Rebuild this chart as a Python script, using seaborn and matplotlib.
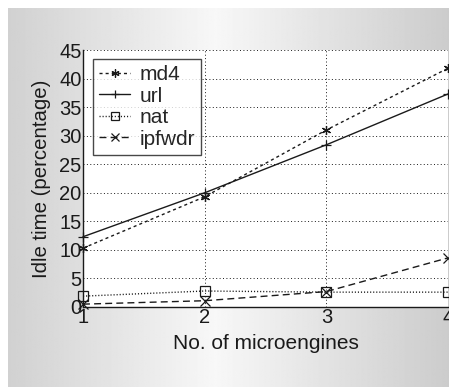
import numpy as np
import pandas as pd
import matplotlib
matplotlib.use("Agg")
import matplotlib.pyplot as plt
import seaborn as sns

# data
engines = [1, 2, 3, 4]
md4 = [10.3, 19.3, 31.0, 41.8]
url = [12.3, 20.0, 28.4, 37.3]
nat = [1.9, 2.8, 2.6, 2.6]
ipfwdr = [0.5, 1.1, 2.7, 8.6]
yticks = list(range(0, 50, 5))

sns.set_theme(style="white")
plt.rcParams["font.family"] = ["Liberation Sans", "DejaVu Sans"]

fig = plt.figure(figsize=(4.49, 3.88), dpi=100)
fig.patch.set_facecolor("white")

# grey gradient backdrop
bg = fig.add_axes([8 / 449, 1 / 388, 441 / 449, 379 / 388], zorder=-1)
xs = np.linspace(0, 1, 400)
shade = 0.97 - 0.17 * np.abs(xs - 0.47) / 0.53
bg.imshow(np.tile(shade, (10, 1)), cmap="gray", vmin=0, vmax=1,
          aspect="auto", extent=[0, 1, 0, 1])
bg.set_axis_off()

ax = fig.add_axes([83 / 449, 81 / 388, 365 / 449, 257 / 388])
ax.set_facecolor("white")

series = [
    ("md4", md4, (0, (2.2, 2.2)), (6, 2, 0), "k"),
    ("url", url, "-", "+", "k"),
    ("nat", nat, (0, (0.8, 1.4)), "s", "none"),
    ("ipfwdr", ipfwdr, (0, (5, 3)), "x", "k"),
]
for name, vals, ls, mk, fc in series:
    df = pd.DataFrame({"engines": engines, "idle": vals})
    sns.lineplot(data=df, x="engines", y="idle", ax=ax, color="k",
                 linestyle=ls, linewidth=1.0, marker=mk, markersize=6.5,
                 markerfacecolor=fc, markeredgecolor="k", markeredgewidth=0.9,
                 label=name, clip_on=False)

ax.set_xlim(1, 4)
ax.set_ylim(0, 45)
ax.set_xticks(engines)
ax.set_yticks(yticks)
ax.grid(True, color="k", linestyle=(0, (1, 2.5)), linewidth=0.7)
ax.tick_params(direction="in", length=4, width=0.8, labelsize=14.5,
               pad=1, colors="k")
for side in ["top", "right"]:
    ax.spines[side].set_visible(False)
for side in ["left", "bottom"]:
    ax.spines[side].set_color("k")
    ax.spines[side].set_linewidth(1.0)

ax.set_xlabel("No. of microengines", fontsize=15, color="k", labelpad=5)
ax.set_ylabel("Idle time (percentage)", fontsize=14.7, color="k", labelpad=6)

leg = ax.legend(loc="upper left", bbox_to_anchor=(0.027, 0.965),
                fontsize=15, frameon=True, fancybox=False,
                handlelength=1.5, handletextpad=0.45, borderpad=0.3,
                labelspacing=0.12, borderaxespad=0, markerscale=0.9)
leg.get_frame().set_edgecolor("k")
leg.get_frame().set_linewidth(1.0)

fig.savefig("out.png", dpi=100)
